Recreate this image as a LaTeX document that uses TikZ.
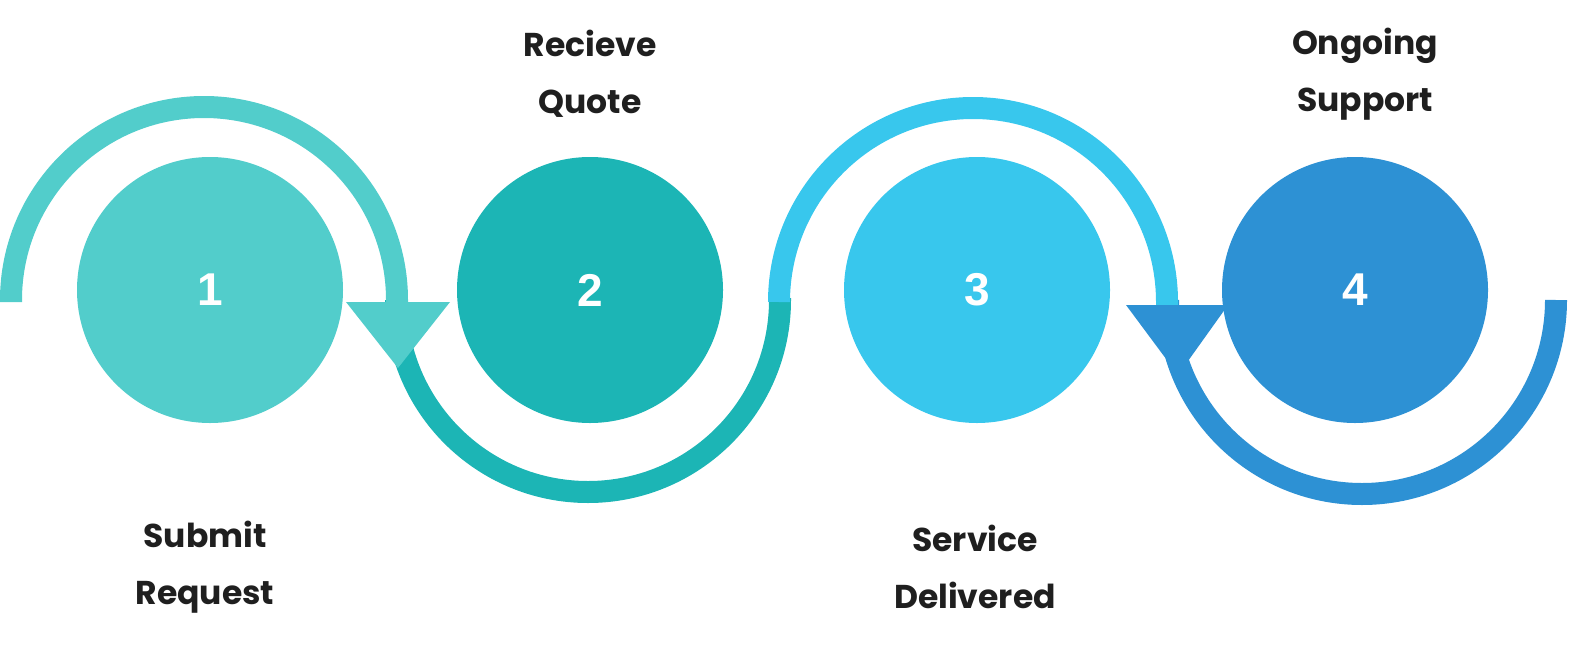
\documentclass[tikz,border=0pt]{standalone}
\usepackage{fontspec}
\setmainfont{Poppins}
\newfontfamily\numfont{Liberation Sans}
\definecolor{ca}{HTML}{52CDCB}
\definecolor{cb}{HTML}{1CB5B5}
\definecolor{cc}{HTML}{38C7ED}
\definecolor{cd}{HTML}{2D91D4}
\begin{document}
\begin{tikzpicture}[x=1pt,y=-1pt,
  ring/.style={line width=22pt},
  disc/.style={circle,minimum size=266pt,inner sep=0pt},
  num/.style={font=\numfont\bfseries\fontsize{46}{46}\selectfont,text=white},
  lbl/.style={font=\bfseries\fontsize{33}{57}\selectfont,align=center,text=black!88}]
\useasboundingbox (0,0) rectangle (1578,645);
\draw[ring,cb] (396,300) arc[start angle=180,end angle=0,radius=192] -- ++(0,-2);
\draw[ring,ca] (11,302) -- (11,300) arc[start angle=180,end angle=360,radius=193] -- (397,305);
\fill[ca] (346,302) -- (450,302) -- (398,368) -- cycle;
\draw[ring,cd] (1168,300) arc[start angle=180,end angle=0,radius=194] -- (1556,300);
\draw[ring,cc] (779,302) arc[start angle=180,end angle=360,radius=194] -- (1167,306);
\fill[cd] (1126,305) -- (1228,305) -- (1178,375) -- cycle;
\node[disc,fill=ca] (n1) at (210,290) {};
\node[disc,fill=cb] (n2) at (590,290) {};
\node[disc,fill=cc] (n3) at (977,290) {};
\node[disc,fill=cd] (n4) at (1355,290) {};
\node[num] at (n1) {1};
\node[num] at (n2) {2};
\node[num] at (n3) {3};
\node[num] at (n4) {4};
\node[lbl] (t1) at (205,567) {Submit\\Request};
\node[lbl] (t2) at (590,74) {Recieve\\Quote};
\node[lbl] (t3) at (975,567) {Service\\Delivered};
\node[lbl] (t4) at (1365,74) {Ongoing\\Support};
\end{tikzpicture}
\end{document}
